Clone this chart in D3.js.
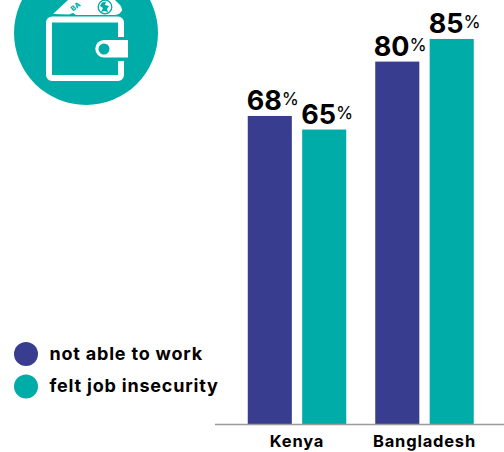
<!DOCTYPE html>
<html>
<head>
<meta charset="utf-8">
<style>
html,body{margin:0;padding:0;background:#fff;}
svg{display:block;}
text{font-family:Inter,sans-serif;fill:#000;}
</style>
<script src="https://cdn.jsdelivr.net/npm/d3@7/dist/d3.min.js"></script>
</head>
<body>
<svg id="chart" width="504" height="452"></svg>
<script>
// Share of respondents affected, by country
const countries = ["Kenya", "Bangladesh"];
const seriesNames = ["not able to work", "felt job insecurity"];
const notAbleToWork = [68, 80];
const feltJobInsecurity = [65, 85];
const seriesColors = ["#393d8f", "#00aca7"];
const seriesValues = [notAbleToWork, feltJobInsecurity];

const svg = d3.select("#chart");
const baseline = 424;

const x = d3.scaleBand().domain(countries).range([233.25, 488.25]);
const inner = d3.scaleBand().domain(d3.range(seriesNames.length))
  .range([-49.25, 49.25]).paddingInner(0.19);
const y = d3.scaleLinear().domain([0, 100]).range([baseline, baseline - 453]);

// Bars and value labels
countries.forEach((country, ci) => {
  const cx = x(country) + x.bandwidth() / 2;
  seriesValues.forEach((values, si) => {
    const v = values[ci];
    const bx = cx + inner(si);
    svg.append("rect")
      .attr("x", bx).attr("y", y(v))
      .attr("width", inner.bandwidth()).attr("height", baseline - y(v))
      .attr("fill", seriesColors[si]);
    const label = svg.append("text")
      .attr("x", bx + inner.bandwidth() / 2 + 3)
      .attr("y", y(v) - 5.5)
      .attr("text-anchor", "middle");
    label.append("tspan").text(v)
      .attr("font-size", 27).attr("font-weight", 700);
    label.append("tspan").text("%")
      .attr("font-size", 17.5).attr("font-weight", 400).attr("dy", -5.5);
  });
});

// Category axis
const axis = d3.axisBottom(x).tickSize(0).tickPadding(11);
const axisG = svg.append("g").attr("transform", `translate(0,${baseline})`).call(axis);
axisG.select(".domain").remove();
axisG.selectAll("text")
  .attr("font-size", 16.5).attr("font-weight", 700)
  .style("font-family", "Inter,sans-serif")
  .style("letter-spacing", "0.8px");
svg.append("line")
  .attr("x1", 215).attr("x2", 504)
  .attr("y1", baseline + 0.5).attr("y2", baseline + 0.5)
  .attr("stroke", "#9a9a9a").attr("stroke-width", 1.5);

// Legend
const legendY = d3.scalePoint().domain(seriesNames).range([354, 386.5]);
seriesNames.forEach((name, i) => {
  svg.append("circle").attr("cx", 26).attr("cy", legendY(name)).attr("r", 12)
    .attr("fill", seriesColors[i]);
  svg.append("text").attr("x", 49.5).attr("y", legendY(name) + 5.5)
    .attr("font-size", 18).attr("font-weight", 700)
    .style("letter-spacing", "0.8px")
    .text(name);
});

// Wallet badge
const teal = seriesColors[1];
const badge = svg.append("g");
badge.append("circle").attr("cx", 86).attr("cy", 33).attr("r", 72).attr("fill", teal);
// banknote sticking out of the wallet
badge.append("path")
  .attr("d", "M53 14 L68 0 L115 0 L120 5 Q124 10 120 13 Q118 15 113 15 L76 15 L73 13 L69 14.5 Z")
  .attr("fill", "#fff");
badge.append("circle").attr("cx", 105).attr("cy", 7).attr("r", 6.8)
  .attr("fill", "none").attr("stroke", teal).attr("stroke-width", 1.3);
badge.append("path")
  .attr("d", "M102 2.5 L106 1.5 L105 5 L109 6 L107 9 L108 12 L104 11 L101 12 L103 8 L100 6 Z")
  .attr("fill", teal);
badge.append("text").attr("transform", "translate(73,11.5) rotate(-38)")
  .attr("font-size", 7).attr("font-weight", 800)
  .style("fill", teal).text("BA");
// wallet body
badge.append("rect").attr("x", 49).attr("y", 19.5).attr("width", 72).attr("height", 58.5).attr("rx", 3)
  .attr("fill", "none").attr("stroke", "#fff").attr("stroke-width", 6);
// clasp
badge.append("rect").attr("x", 116).attr("y", 37).attr("width", 12).attr("height", 24).attr("fill", teal);
badge.append("path")
  .attr("d", "M128 40 L104 40 A8.75 8.75 0 0 0 104 57.5 L128 57.5 Z").attr("fill", "#fff");
badge.append("circle").attr("cx", 104).attr("cy", 49).attr("r", 5.5).attr("fill", teal);
</script>
</body>
</html>
